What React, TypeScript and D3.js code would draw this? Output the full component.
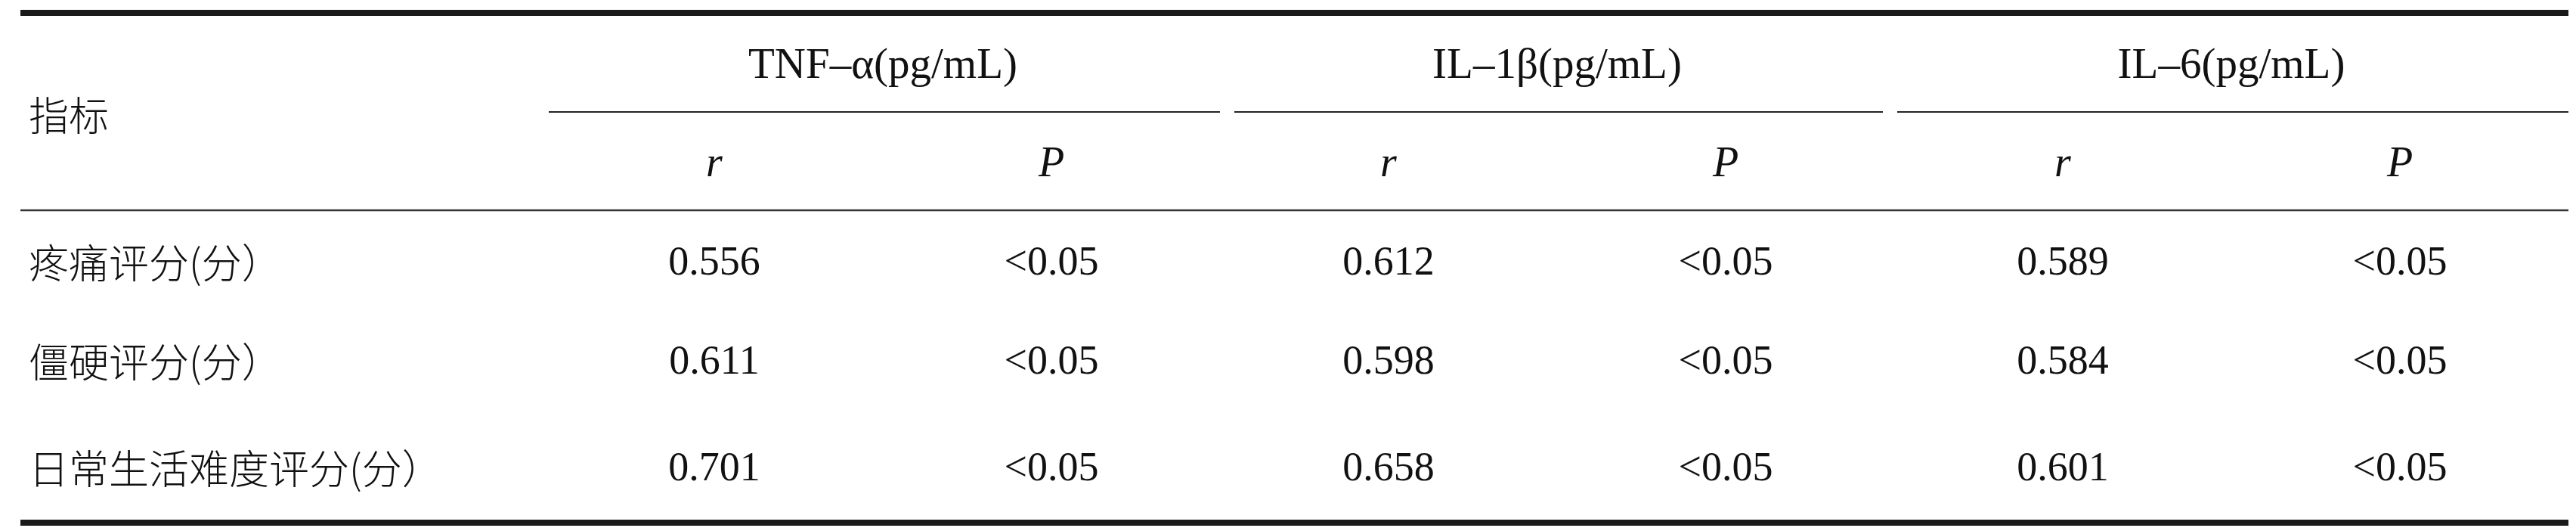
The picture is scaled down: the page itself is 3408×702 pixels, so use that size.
import React, { useEffect, useRef } from "react";
import * as d3 from "d3";

const groups = ["TNF–α(pg/mL)", "IL–1β(pg/mL)", "IL–6(pg/mL)"];
const subHeaders = ["r", "P"];
const rowLabels = ["疼痛评分(分）", "僵硬评分(分）", "日常生活难度评分(分）"];
const rValues = [
  ["0.556", "0.612", "0.589"],
  ["0.611", "0.598", "0.584"],
  ["0.701", "0.658", "0.601"],
];
const pValues = [
  ["<0.05", "<0.05", "<0.05"],
  ["<0.05", "<0.05", "<0.05"],
  ["<0.05", "<0.05", "<0.05"],
];
const firstHeader = "指标";

const W = 3408;
const H = 702;
const LATIN = "'Liberation Serif', 'Times New Roman', serif";
const CJK = "'Noto Sans CJK SC', 'Noto Sans', sans-serif";

// where each group's underline starts and stops
const groupSpans = [
  [726, 1614],
  [1633, 2491],
  [2510, 3398],
];

const App: React.FC = () => {
  const svgRef = useRef<SVGSVGElement | null>(null);

  useEffect(() => {
    document.body.style.margin = "0";
    if (!svgRef.current) return;
    const svg = d3.select(svgRef.current);
    svg.selectAll("*").remove();

    const colKeys = groups.flatMap((_, g) => subHeaders.map((s) => `${g}-${s}`));
    const x = d3.scalePoint<string>().domain(colKeys).range([945, 3175]);
    const rowY = d3.scaleOrdinal<string, number>().domain(rowLabels).range([345, 476, 617]);

    const left = 27;
    const right = 3398;

    // rules
    svg.append("line").attr("x1", left).attr("x2", right).attr("y1", 17).attr("y2", 17)
      .attr("stroke", "#1a1a1a").attr("stroke-width", 8);
    svg.append("line").attr("x1", left).attr("x2", right).attr("y1", 691).attr("y2", 691)
      .attr("stroke", "#1a1a1a").attr("stroke-width", 8);
    svg.append("line").attr("x1", left).attr("x2", right).attr("y1", 278).attr("y2", 278)
      .attr("stroke", "#333").attr("stroke-width", 2.5);

    groups.forEach((grp, g) => {
      const mid = (x(`${g}-r`)! + x(`${g}-P`)!) / 2;
      const [x1, x2] = groupSpans[g];
      svg.append("line").attr("x1", x1).attr("x2", x2).attr("y1", 148).attr("y2", 148)
        .attr("stroke", "#222").attr("stroke-width", 2.2);
      svg.append("text")
        .attr("x", mid).attr("y", 103)
        .attr("text-anchor", "middle")
        .style("font-family", LATIN).style("font-size", "57px").style("fill", "#111")
        .text(grp);
    });

    svg.selectAll(".sub")
      .data(colKeys)
      .enter()
      .append("text")
      .attr("x", (d) => x(d)!)
      .attr("y", 233)
      .attr("text-anchor", "middle")
      .style("font-family", LATIN).style("font-size", "56px").style("font-style", "italic").style("fill", "#111")
      .text((d) => d.split("-")[1]);

    svg.append("text")
      .attr("x", 38).attr("y", 150)
      .attr("dominant-baseline", "central")
      .style("font-family", CJK).style("font-size", "53px").style("font-weight", 300).style("fill", "#111")
      .text(firstHeader);

    rowLabels.forEach((label, i) => {
      const cy = rowY(label);
      svg.append("text")
        .attr("x", 38).attr("y", cy)
        .attr("dominant-baseline", "central")
        .style("font-family", CJK).style("font-size", "53px").style("font-weight", 300).style("fill", "#111")
        .text(label);
      groups.forEach((_, g) => {
        svg.append("text")
          .attr("x", x(`${g}-r`)!).attr("y", cy + 18)
          .attr("text-anchor", "middle")
          .style("font-family", LATIN).style("font-size", "54px").style("fill", "#111")
          .text(rValues[i][g]);
        svg.append("text")
          .attr("x", x(`${g}-P`)!).attr("y", cy + 18)
          .attr("text-anchor", "middle")
          .style("font-family", LATIN).style("font-size", "54px").style("fill", "#111")
          .text(pValues[i][g]);
      });
    });
  }, []);

  return <svg ref={svgRef} width={W} height={H} style={{ display: "block", background: "#fff" }}></svg>;
};

export default App;
